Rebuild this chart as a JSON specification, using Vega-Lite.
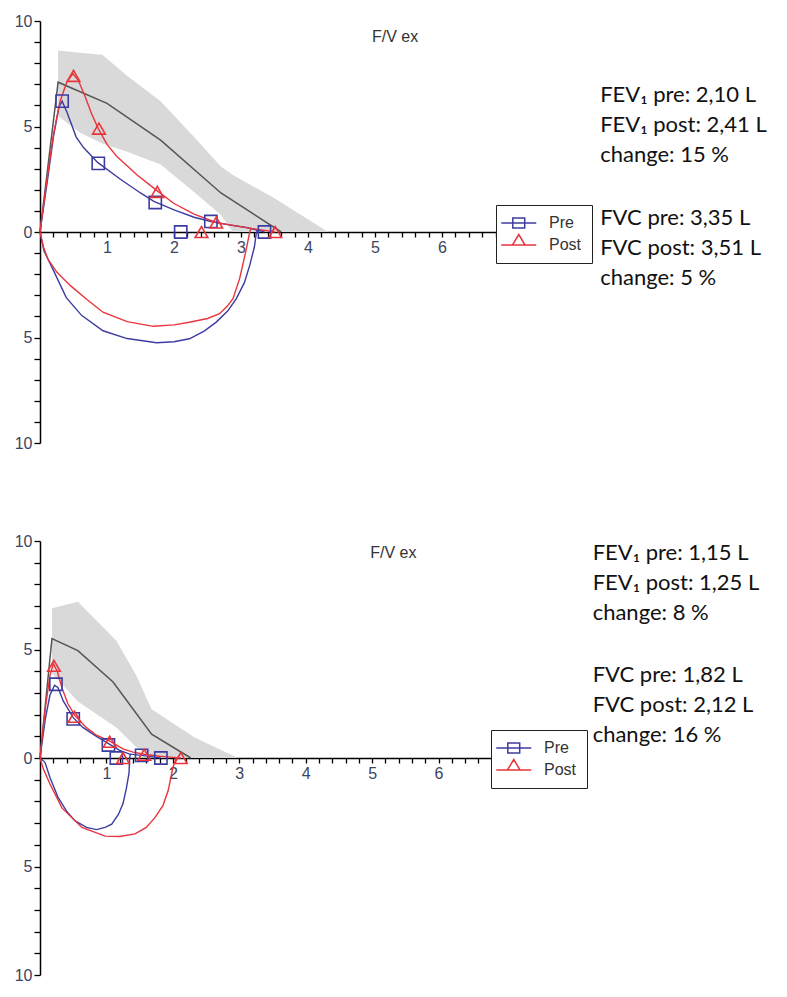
{
  "$schema": "https://vega.github.io/schema/vega-lite/v6.json",
  "padding": {"left": 6, "top": 13, "right": 5, "bottom": 5},
  "spacing": 82,
  "align": "none",
  "background": "white",
  "config": {
    "view": {"stroke": null},
    "axis": {"labelFont": "Liberation Sans", "labelFontSize": 16, "labelColor": "#3a4560", "domainColor": "#000", "domainWidth": 1.5,
      "tickColor": "#000", "tickWidth": 1.3, "labelOverlap": false, "labelFlush": false, "grid": false, "zindex": 1, "labelPadding": 2},
    "axisX": {"tickSize": 5},
    "axisY": {"tickSize": 6}
  },
  "resolve": {"scale": {"color": "independent", "x": "independent", "y": "independent"}, "legend": {"color": "independent"}},
  "datasets": {
    "band1": [
      {"x": 0.27, "y": 8.6, "lo": 5.5}, {"x": 0.6, "y": 8.5, "lo": 4.7}, {"x": 0.93, "y": 8.4, "lo": 4.2},
      {"x": 1.3, "y": 7.4, "lo": 3.8}, {"x": 1.8, "y": 6.2, "lo": 3.2}, {"x": 2.3, "y": 4.5, "lo": 1.9},
      {"x": 2.7, "y": 3.1, "lo": 0.8}, {"x": 2.88, "y": 2.7, "lo": 0}, {"x": 3.5, "y": 1.6, "lo": 0},
      {"x": 4.3, "y": 0, "lo": 0}
    ],
    "pred1": [
      {"x": 0, "y": 0}, {"x": 0.27, "y": 7.1}, {"x": 1.0, "y": 6.1}, {"x": 1.8, "y": 4.35}, {"x": 2.7, "y": 1.85}, {"x": 3.6, "y": 0}
    ],
    "loop1": [
      {"s": "Pre", "g": "pre-ex", "i": 0, "x": 0, "y": 0}, {"s": "Pre", "g": "pre-ex", "i": 1, "x": 0.1, "y": 2.2},
      {"s": "Pre", "g": "pre-ex", "i": 2, "x": 0.2, "y": 4.5}, {"s": "Pre", "g": "pre-ex", "i": 3, "x": 0.28, "y": 5.9},
      {"s": "Pre", "g": "pre-ex", "i": 4, "x": 0.33, "y": 6.2}, {"s": "Pre", "g": "pre-ex", "i": 5, "x": 0.4, "y": 5.7},
      {"s": "Pre", "g": "pre-ex", "i": 6, "x": 0.54, "y": 4.5}, {"s": "Pre", "g": "pre-ex", "i": 7, "x": 0.65, "y": 4.0},
      {"s": "Pre", "g": "pre-ex", "i": 8, "x": 0.86, "y": 3.3}, {"s": "Pre", "g": "pre-ex", "i": 9, "x": 1.2, "y": 2.5},
      {"s": "Pre", "g": "pre-ex", "i": 10, "x": 1.5, "y": 1.85}, {"s": "Pre", "g": "pre-ex", "i": 11, "x": 1.7, "y": 1.45},
      {"s": "Pre", "g": "pre-ex", "i": 12, "x": 2.0, "y": 1.05}, {"s": "Pre", "g": "pre-ex", "i": 13, "x": 2.3, "y": 0.7},
      {"s": "Pre", "g": "pre-ex", "i": 14, "x": 2.55, "y": 0.5}, {"s": "Pre", "g": "pre-ex", "i": 15, "x": 2.8, "y": 0.35},
      {"s": "Pre", "g": "pre-ex", "i": 16, "x": 3.1, "y": 0.2}, {"s": "Pre", "g": "pre-ex", "i": 17, "x": 3.3, "y": 0.05},
      {"s": "Pre", "g": "pre-ex", "i": 18, "x": 3.35, "y": 0},
      {"s": "Pre", "g": "pre-in", "i": 0, "x": 0, "y": 0}, {"s": "Pre", "g": "pre-in", "i": 1, "x": 0.06, "y": -0.9},
      {"s": "Pre", "g": "pre-in", "i": 2, "x": 0.19, "y": -1.75}, {"s": "Pre", "g": "pre-in", "i": 3, "x": 0.39, "y": -3.1},
      {"s": "Pre", "g": "pre-in", "i": 4, "x": 0.62, "y": -3.95}, {"s": "Pre", "g": "pre-in", "i": 5, "x": 0.94, "y": -4.68},
      {"s": "Pre", "g": "pre-in", "i": 6, "x": 1.3, "y": -5.05}, {"s": "Pre", "g": "pre-in", "i": 7, "x": 1.74, "y": -5.25},
      {"s": "Pre", "g": "pre-in", "i": 8, "x": 2.0, "y": -5.2}, {"s": "Pre", "g": "pre-in", "i": 9, "x": 2.23, "y": -5.06},
      {"s": "Pre", "g": "pre-in", "i": 10, "x": 2.45, "y": -4.7}, {"s": "Pre", "g": "pre-in", "i": 11, "x": 2.63, "y": -4.27},
      {"s": "Pre", "g": "pre-in", "i": 12, "x": 2.8, "y": -3.75}, {"s": "Pre", "g": "pre-in", "i": 13, "x": 2.93, "y": -3.16},
      {"s": "Pre", "g": "pre-in", "i": 14, "x": 3.05, "y": -2.4}, {"s": "Pre", "g": "pre-in", "i": 15, "x": 3.13, "y": -1.58},
      {"s": "Pre", "g": "pre-in", "i": 16, "x": 3.2, "y": -0.7}, {"s": "Pre", "g": "pre-in", "i": 17, "x": 3.23, "y": 0},
      {"s": "Pre", "g": "pre-in", "i": 18, "x": 3.25, "y": 0.1},
      {"s": "Post", "g": "post-ex", "i": 0, "x": 0, "y": 0}, {"s": "Post", "g": "post-ex", "i": 1, "x": 0.1, "y": 2.4},
      {"s": "Post", "g": "post-ex", "i": 2, "x": 0.2, "y": 4.6}, {"s": "Post", "g": "post-ex", "i": 3, "x": 0.3, "y": 6.2},
      {"s": "Post", "g": "post-ex", "i": 4, "x": 0.4, "y": 7.1}, {"s": "Post", "g": "post-ex", "i": 5, "x": 0.49, "y": 7.5},
      {"s": "Post", "g": "post-ex", "i": 6, "x": 0.57, "y": 7.2}, {"s": "Post", "g": "post-ex", "i": 7, "x": 0.67, "y": 6.45},
      {"s": "Post", "g": "post-ex", "i": 8, "x": 0.77, "y": 5.6}, {"s": "Post", "g": "post-ex", "i": 9, "x": 0.87, "y": 4.9},
      {"s": "Post", "g": "post-ex", "i": 10, "x": 1.0, "y": 4.15}, {"s": "Post", "g": "post-ex", "i": 11, "x": 1.14, "y": 3.6},
      {"s": "Post", "g": "post-ex", "i": 12, "x": 1.45, "y": 2.7}, {"s": "Post", "g": "post-ex", "i": 13, "x": 1.75, "y": 1.95},
      {"s": "Post", "g": "post-ex", "i": 14, "x": 2.0, "y": 1.35}, {"s": "Post", "g": "post-ex", "i": 15, "x": 2.3, "y": 0.85},
      {"s": "Post", "g": "post-ex", "i": 16, "x": 2.63, "y": 0.45}, {"s": "Post", "g": "post-ex", "i": 17, "x": 2.9, "y": 0.3},
      {"s": "Post", "g": "post-ex", "i": 18, "x": 3.2, "y": 0.15}, {"s": "Post", "g": "post-ex", "i": 19, "x": 3.51, "y": 0},
      {"s": "Post", "g": "post-in", "i": 0, "x": 0, "y": 0}, {"s": "Post", "g": "post-in", "i": 1, "x": 0.05, "y": -0.7},
      {"s": "Post", "g": "post-in", "i": 2, "x": 0.12, "y": -1.3}, {"s": "Post", "g": "post-in", "i": 3, "x": 0.25, "y": -1.9},
      {"s": "Post", "g": "post-in", "i": 4, "x": 0.45, "y": -2.53}, {"s": "Post", "g": "post-in", "i": 5, "x": 0.7, "y": -3.2},
      {"s": "Post", "g": "post-in", "i": 6, "x": 0.94, "y": -3.8}, {"s": "Post", "g": "post-in", "i": 7, "x": 1.3, "y": -4.25},
      {"s": "Post", "g": "post-in", "i": 8, "x": 1.69, "y": -4.47}, {"s": "Post", "g": "post-in", "i": 9, "x": 2.0, "y": -4.4},
      {"s": "Post", "g": "post-in", "i": 10, "x": 2.23, "y": -4.28}, {"s": "Post", "g": "post-in", "i": 11, "x": 2.5, "y": -4.1},
      {"s": "Post", "g": "post-in", "i": 12, "x": 2.68, "y": -3.87}, {"s": "Post", "g": "post-in", "i": 13, "x": 2.8, "y": -3.5},
      {"s": "Post", "g": "post-in", "i": 14, "x": 2.88, "y": -3.16}, {"s": "Post", "g": "post-in", "i": 15, "x": 2.98, "y": -2.2},
      {"s": "Post", "g": "post-in", "i": 16, "x": 3.08, "y": -0.79}, {"s": "Post", "g": "post-in", "i": 17, "x": 3.13, "y": 0},
      {"s": "Post", "g": "post-in", "i": 18, "x": 3.15, "y": 0.15}
    ],
    "mk1": [
      {"s": "Pre", "x": 0.33, "y": 6.2}, {"s": "Pre", "x": 0.87, "y": 3.25}, {"s": "Pre", "x": 1.72, "y": 1.4},
      {"s": "Pre", "x": 2.55, "y": 0.5}, {"s": "Pre", "x": 3.35, "y": 0}, {"s": "Pre", "x": 2.1, "y": 0},
      {"s": "Post", "x": 0.5, "y": 7.4}, {"s": "Post", "x": 0.88, "y": 4.9}, {"s": "Post", "x": 1.75, "y": 1.9},
      {"s": "Post", "x": 2.63, "y": 0.45}, {"s": "Post", "x": 3.51, "y": 0}, {"s": "Post", "x": 2.41, "y": 0}
    ],
    "ttl1": [{"x": 5.3, "y": 9.0, "t": "F/V ex"}],
    "txt1": [
      {"x": 8.36, "y": 6.16, "t": "FEV₁ pre: 2,10 L"},
      {"x": 8.36, "y": 4.74, "t": "FEV₁ post: 2,41 L"},
      {"x": 8.36, "y": 3.32, "t": "change: 15 %"},
      {"x": 8.36, "y": 0.35, "t": "FVC pre: 3,35 L"},
      {"x": 8.36, "y": -1.08, "t": "FVC post: 3,51 L"},
      {"x": 8.36, "y": -2.5, "t": "change: 5 %"}
    ],
    "band2": [
      {"x": 0.18, "y": 6.9, "lo": 3.9}, {"x": 0.57, "y": 7.2, "lo": 2.6}, {"x": 1.15, "y": 5.4, "lo": 1.4},
      {"x": 1.45, "y": 3.8, "lo": 0.5}, {"x": 1.68, "y": 2.25, "lo": 0}, {"x": 2.33, "y": 0.95, "lo": 0},
      {"x": 2.98, "y": 0, "lo": 0}
    ],
    "pred2": [
      {"x": 0, "y": 0}, {"x": 0.18, "y": 5.5}, {"x": 0.57, "y": 4.95}, {"x": 1.1, "y": 3.5}, {"x": 1.68, "y": 1.1}, {"x": 2.27, "y": 0}
    ],
    "loop2": [
      {"s": "Pre", "g": "pre-ex", "i": 0, "x": 0, "y": 0}, {"s": "Pre", "g": "pre-ex", "i": 1, "x": 0.08, "y": 1.8},
      {"s": "Pre", "g": "pre-ex", "i": 2, "x": 0.15, "y": 2.9}, {"s": "Pre", "g": "pre-ex", "i": 3, "x": 0.22, "y": 3.35},
      {"s": "Pre", "g": "pre-ex", "i": 4, "x": 0.27, "y": 3.25}, {"s": "Pre", "g": "pre-ex", "i": 5, "x": 0.35, "y": 2.63},
      {"s": "Pre", "g": "pre-ex", "i": 6, "x": 0.5, "y": 1.86}, {"s": "Pre", "g": "pre-ex", "i": 7, "x": 0.65, "y": 1.4},
      {"s": "Pre", "g": "pre-ex", "i": 8, "x": 0.85, "y": 1.0}, {"s": "Pre", "g": "pre-ex", "i": 9, "x": 1.05, "y": 0.63},
      {"s": "Pre", "g": "pre-ex", "i": 10, "x": 1.2, "y": 0.35}, {"s": "Pre", "g": "pre-ex", "i": 11, "x": 1.35, "y": 0.18},
      {"s": "Pre", "g": "pre-ex", "i": 12, "x": 1.53, "y": 0.12}, {"s": "Pre", "g": "pre-ex", "i": 13, "x": 1.7, "y": 0.05},
      {"s": "Pre", "g": "pre-ex", "i": 14, "x": 1.82, "y": 0},
      {"s": "Pre", "g": "pre-in", "i": 0, "x": 0, "y": 0}, {"s": "Pre", "g": "pre-in", "i": 1, "x": 0.075, "y": -0.2},
      {"s": "Pre", "g": "pre-in", "i": 2, "x": 0.15, "y": -0.9}, {"s": "Pre", "g": "pre-in", "i": 3, "x": 0.27, "y": -1.8},
      {"s": "Pre", "g": "pre-in", "i": 4, "x": 0.4, "y": -2.45}, {"s": "Pre", "g": "pre-in", "i": 5, "x": 0.53, "y": -2.9},
      {"s": "Pre", "g": "pre-in", "i": 6, "x": 0.7, "y": -3.2}, {"s": "Pre", "g": "pre-in", "i": 7, "x": 0.85, "y": -3.3},
      {"s": "Pre", "g": "pre-in", "i": 8, "x": 0.98, "y": -3.2}, {"s": "Pre", "g": "pre-in", "i": 9, "x": 1.08, "y": -3.05},
      {"s": "Pre", "g": "pre-in", "i": 10, "x": 1.18, "y": -2.6}, {"s": "Pre", "g": "pre-in", "i": 11, "x": 1.25, "y": -2.1},
      {"s": "Pre", "g": "pre-in", "i": 12, "x": 1.3, "y": -1.4}, {"s": "Pre", "g": "pre-in", "i": 13, "x": 1.34, "y": -0.7},
      {"s": "Pre", "g": "pre-in", "i": 14, "x": 1.35, "y": 0}, {"s": "Pre", "g": "pre-in", "i": 15, "x": 1.36, "y": 0.2},
      {"s": "Post", "g": "post-ex", "i": 0, "x": 0, "y": 0}, {"s": "Post", "g": "post-ex", "i": 1, "x": 0.08, "y": 2.3},
      {"s": "Post", "g": "post-ex", "i": 2, "x": 0.15, "y": 3.8}, {"s": "Post", "g": "post-ex", "i": 3, "x": 0.2, "y": 4.35},
      {"s": "Post", "g": "post-ex", "i": 4, "x": 0.26, "y": 4.0}, {"s": "Post", "g": "post-ex", "i": 5, "x": 0.33, "y": 3.24},
      {"s": "Post", "g": "post-ex", "i": 6, "x": 0.42, "y": 2.5}, {"s": "Post", "g": "post-ex", "i": 7, "x": 0.53, "y": 1.94},
      {"s": "Post", "g": "post-ex", "i": 8, "x": 0.7, "y": 1.4}, {"s": "Post", "g": "post-ex", "i": 9, "x": 0.85, "y": 1.05},
      {"s": "Post", "g": "post-ex", "i": 10, "x": 1.05, "y": 0.78}, {"s": "Post", "g": "post-ex", "i": 11, "x": 1.25, "y": 0.42},
      {"s": "Post", "g": "post-ex", "i": 12, "x": 1.4, "y": 0.27}, {"s": "Post", "g": "post-ex", "i": 13, "x": 1.57, "y": 0.17},
      {"s": "Post", "g": "post-ex", "i": 14, "x": 1.8, "y": 0.08}, {"s": "Post", "g": "post-ex", "i": 15, "x": 2.0, "y": 0.03},
      {"s": "Post", "g": "post-ex", "i": 16, "x": 2.12, "y": 0},
      {"s": "Post", "g": "post-in", "i": 0, "x": 0, "y": 0}, {"s": "Post", "g": "post-in", "i": 1, "x": 0.05, "y": -0.5},
      {"s": "Post", "g": "post-in", "i": 2, "x": 0.15, "y": -1.2}, {"s": "Post", "g": "post-in", "i": 3, "x": 0.33, "y": -2.3},
      {"s": "Post", "g": "post-in", "i": 4, "x": 0.63, "y": -3.2}, {"s": "Post", "g": "post-in", "i": 5, "x": 0.98, "y": -3.6},
      {"s": "Post", "g": "post-in", "i": 6, "x": 1.2, "y": -3.62}, {"s": "Post", "g": "post-in", "i": 7, "x": 1.43, "y": -3.5},
      {"s": "Post", "g": "post-in", "i": 8, "x": 1.6, "y": -3.2}, {"s": "Post", "g": "post-in", "i": 9, "x": 1.73, "y": -2.75},
      {"s": "Post", "g": "post-in", "i": 10, "x": 1.85, "y": -2.2}, {"s": "Post", "g": "post-in", "i": 11, "x": 1.93, "y": -1.5},
      {"s": "Post", "g": "post-in", "i": 12, "x": 2.0, "y": -0.45}, {"s": "Post", "g": "post-in", "i": 13, "x": 2.05, "y": 0}
    ],
    "mk2": [
      {"s": "Pre", "x": 0.24, "y": 3.4}, {"s": "Pre", "x": 0.5, "y": 1.8}, {"s": "Pre", "x": 1.03, "y": 0.6},
      {"s": "Pre", "x": 1.53, "y": 0.12}, {"s": "Pre", "x": 1.82, "y": 0}, {"s": "Pre", "x": 1.15, "y": 0},
      {"s": "Post", "x": 0.21, "y": 4.25}, {"s": "Post", "x": 0.52, "y": 1.9}, {"s": "Post", "x": 1.05, "y": 0.75},
      {"s": "Post", "x": 1.57, "y": 0.15}, {"s": "Post", "x": 2.12, "y": 0}, {"s": "Post", "x": 1.25, "y": 0}
    ],
    "ttl2": [{"x": 5.32, "y": 9.2, "t": "F/V ex"}],
    "txt2": [
      {"x": 8.32, "y": 9.12, "t": "FEV₁ pre: 1,15 L"},
      {"x": 8.32, "y": 7.74, "t": "FEV₁ post: 1,25 L"},
      {"x": 8.32, "y": 6.36, "t": "change: 8 %"},
      {"x": 8.32, "y": 3.5, "t": "FVC pre: 1,82 L"},
      {"x": 8.32, "y": 2.12, "t": "FVC post: 2,12 L"},
      {"x": 8.32, "y": 0.74, "t": "change: 16 %"}
    ]
  },
  "vconcat": [
    {
      "width": 459,
      "height": 422,
      "resolve": {"axis": {"x": "independent", "y": "independent"}},
      "layer": [
        {
          "data": {"name": "band1"},
          "mark": {"type": "area", "color": "#d9d9d9"},
          "encoding": {
            "x": {"field": "x", "type": "quantitative", "scale": {"domain": [0, 6.85], "nice": false, "zero": false},
              "axis": {"orient": "bottom", "offset": -211, "title": null, "labelFontSize": 16, "labelFont": "Liberation Sans", "labelColor": "#3a4560",
                "values": [0.2,0.4,0.6,0.8,1,1.2,1.4,1.6,1.8,2,2.2,2.4,2.6,2.8,3,3.2,3.4,3.6,3.8,4,4.2,4.4,4.6,4.8,5,5.2,5.4,5.6,5.8,6,6.2,6.4,6.6,6.8],
                "labelExpr": "abs(datum.value - round(datum.value)) < 0.01 ? '' + round(datum.value) : ''"}},
            "y": {"field": "y", "type": "quantitative", "scale": {"domain": [-10, 10], "nice": false},
              "axis": {"orient": "left", "title": null, "labelFontSize": 16, "labelFont": "Liberation Sans", "labelColor": "#3a4560",
                "values": [-10,-9,-8,-7,-6,-5,-4,-3,-2,-1,0,1,2,3,4,5,6,7,8,9,10],
                "labelExpr": "datum.value % 5 === 0 ? '' + abs(datum.value) : ''"}},
            "y2": {"field": "lo"}
          }
        },
        {
          "data": {"name": "pred1"},
          "mark": {"type": "line", "color": "#555555", "strokeWidth": 1.5},
          "encoding": {
            "x": {"field": "x", "type": "quantitative", "axis": null},
            "y": {"field": "y", "type": "quantitative", "axis": null}
          }
        },
        {
          "data": {"name": "loop1"},
          "mark": {"type": "line", "strokeWidth": 1.4},
          "encoding": {
            "x": {"field": "x", "type": "quantitative", "axis": null},
            "y": {"field": "y", "type": "quantitative", "axis": null},
            "color": {"field": "s", "type": "nominal", "scale": {"domain": ["Pre", "Post"], "range": ["#3c3ca0", "#e8353c"]},
              "legend": {"title": null, "orient": "none", "legendX": 456, "legendY": 184,
                "fillColor": "white", "strokeColor": "#222", "padding": 10,
                "labelFont": "Liberation Sans", "labelFontSize": 16, "labelColor": "#333",
                "labelOffset": 27, "rowPadding": 0, "symbolSize": 196, "symbolStrokeWidth": 1.5,
                "encode": {"symbols": {"update": {
                  "shape": {"signal": "datum.value === 'Pre' ? 'M-1.82,0H3.18M-0.17,-0.7H1.53V0.7H-0.17Z' : 'M-1.82,0H3.18M0.68,-1.5L1.58,0H-0.22Z'"},
                  "fill": {"value": "transparent"}}}}}},
            "detail": {"field": "g"},
            "order": {"field": "i", "type": "quantitative"}
          }
        },
        {
          "data": {"name": "mk1"},
          "transform": [{"filter": "datum.s === 'Pre'"}],
          "mark": {"type": "point", "shape": "square", "filled": false, "color": "#3c3ca0", "size": 150, "strokeWidth": 1.6, "opacity": 1},
          "encoding": {
            "x": {"field": "x", "type": "quantitative", "axis": null},
            "y": {"field": "y", "type": "quantitative", "axis": null}
          }
        },
        {
          "data": {"name": "mk1"},
          "transform": [{"filter": "datum.s === 'Post'"}],
          "mark": {"type": "point", "shape": "triangle-up", "filled": false, "color": "#e8353c", "size": 160, "strokeWidth": 1.6, "opacity": 1},
          "encoding": {
            "x": {"field": "x", "type": "quantitative", "axis": null},
            "y": {"field": "y", "type": "quantitative", "axis": null}
          }
        },
        {
          "data": {"name": "ttl1"},
          "mark": {"type": "text", "align": "center", "baseline": "alphabetic", "font": "Liberation Sans", "fontSize": 16, "color": "#333"},
          "encoding": {
            "x": {"field": "x", "type": "quantitative", "axis": null},
            "y": {"field": "y", "type": "quantitative", "axis": null},
            "text": {"field": "t"}
          }
        },
        {
          "data": {"name": "txt1"},
          "mark": {"type": "text", "align": "left", "baseline": "alphabetic", "font": "Lato", "fontSize": 22, "color": "#111"},
          "encoding": {
            "x": {"field": "x", "type": "quantitative", "axis": null},
            "y": {"field": "y", "type": "quantitative", "axis": null},
            "text": {"field": "t"}
          }
        }
      ]
    },
    {
      "width": 455,
      "height": 434,
      "resolve": {"axis": {"x": "independent", "y": "independent"}},
      "layer": [
        {
          "data": {"name": "band2"},
          "mark": {"type": "area", "color": "#d9d9d9"},
          "encoding": {
            "x": {"field": "x", "type": "quantitative", "scale": {"domain": [0, 6.85], "nice": false, "zero": false},
              "axis": {"orient": "bottom", "offset": -217, "title": null, "labelFontSize": 16, "labelFont": "Liberation Sans", "labelColor": "#3a4560",
                "values": [0.2,0.4,0.6,0.8,1,1.2,1.4,1.6,1.8,2,2.2,2.4,2.6,2.8,3,3.2,3.4,3.6,3.8,4,4.2,4.4,4.6,4.8,5,5.2,5.4,5.6,5.8,6,6.2,6.4,6.6,6.8],
                "labelExpr": "abs(datum.value - round(datum.value)) < 0.01 ? '' + round(datum.value) : ''"}},
            "y": {"field": "y", "type": "quantitative", "scale": {"domain": [-10, 10], "nice": false},
              "axis": {"orient": "left", "title": ".", "titleColor": "transparent", "titleFontSize": 8, "titlePadding": 0,
                "labelFontSize": 16, "labelFont": "Liberation Sans", "labelColor": "#3a4560",
                "values": [-10,-9,-8,-7,-6,-5,-4,-3,-2,-1,0,1,2,3,4,5,6,7,8,9,10],
                "labelExpr": "datum.value % 5 === 0 ? '' + abs(datum.value) : ''"}},
            "y2": {"field": "lo"}
          }
        },
        {
          "data": {"name": "pred2"},
          "mark": {"type": "line", "color": "#555555", "strokeWidth": 1.5},
          "encoding": {
            "x": {"field": "x", "type": "quantitative", "axis": null},
            "y": {"field": "y", "type": "quantitative", "axis": null}
          }
        },
        {
          "data": {"name": "loop2"},
          "mark": {"type": "line", "strokeWidth": 1.4},
          "encoding": {
            "x": {"field": "x", "type": "quantitative", "axis": null},
            "y": {"field": "y", "type": "quantitative", "axis": null},
            "color": {"field": "s", "type": "nominal", "scale": {"domain": ["Pre", "Post"], "range": ["#3c3ca0", "#e8353c"]},
              "legend": {"title": null, "orient": "none", "legendX": 451, "legendY": 189,
                "fillColor": "white", "strokeColor": "#222", "padding": 10,
                "labelFont": "Liberation Sans", "labelFontSize": 16, "labelColor": "#333",
                "labelOffset": 27, "rowPadding": 0, "symbolSize": 196, "symbolStrokeWidth": 1.5,
                "encode": {"symbols": {"update": {
                  "shape": {"signal": "datum.value === 'Pre' ? 'M-1.82,0H3.18M-0.17,-0.7H1.53V0.7H-0.17Z' : 'M-1.82,0H3.18M0.68,-1.5L1.58,0H-0.22Z'"},
                  "fill": {"value": "transparent"}}}}}},
            "detail": {"field": "g"},
            "order": {"field": "i", "type": "quantitative"}
          }
        },
        {
          "data": {"name": "mk2"},
          "transform": [{"filter": "datum.s === 'Pre'"}],
          "mark": {"type": "point", "shape": "square", "filled": false, "color": "#3c3ca0", "size": 150, "strokeWidth": 1.6, "opacity": 1},
          "encoding": {
            "x": {"field": "x", "type": "quantitative", "axis": null},
            "y": {"field": "y", "type": "quantitative", "axis": null}
          }
        },
        {
          "data": {"name": "mk2"},
          "transform": [{"filter": "datum.s === 'Post'"}],
          "mark": {"type": "point", "shape": "triangle-up", "filled": false, "color": "#e8353c", "size": 160, "strokeWidth": 1.6, "opacity": 1},
          "encoding": {
            "x": {"field": "x", "type": "quantitative", "axis": null},
            "y": {"field": "y", "type": "quantitative", "axis": null}
          }
        },
        {
          "data": {"name": "ttl2"},
          "mark": {"type": "text", "align": "center", "baseline": "alphabetic", "font": "Liberation Sans", "fontSize": 16, "color": "#333"},
          "encoding": {
            "x": {"field": "x", "type": "quantitative", "axis": null},
            "y": {"field": "y", "type": "quantitative", "axis": null},
            "text": {"field": "t"}
          }
        },
        {
          "data": {"name": "txt2"},
          "mark": {"type": "text", "align": "left", "baseline": "alphabetic", "font": "Lato", "fontSize": 22, "color": "#111"},
          "encoding": {
            "x": {"field": "x", "type": "quantitative", "axis": null},
            "y": {"field": "y", "type": "quantitative", "axis": null},
            "text": {"field": "t"}
          }
        }
      ]
    }
  ]
}
